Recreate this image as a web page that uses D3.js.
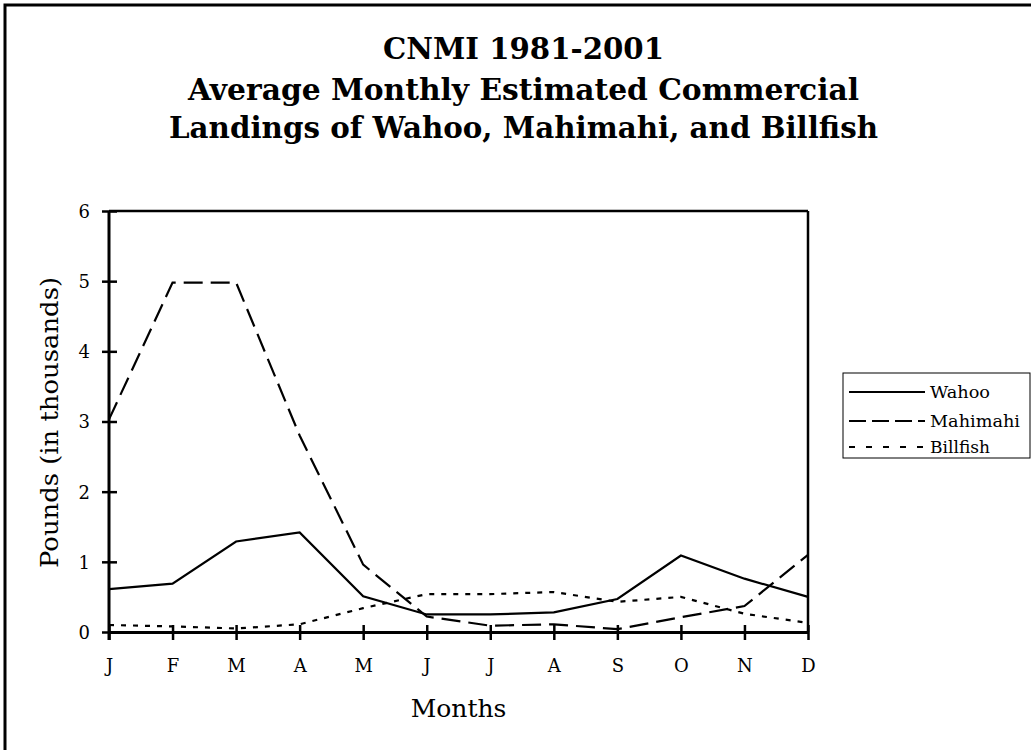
<!DOCTYPE html>
<html><head><meta charset="utf-8">
<script src="https://cdn.jsdelivr.net/npm/d3@7"></script>
<style>
html,body{margin:0;padding:0;background:#fff;}
svg{display:block;}
text{font-family:"DejaVu Serif","Liberation Serif",serif;fill:#000;}
</style></head>
<body>
<svg id="chart" width="1031" height="750"></svg>
<script>
const months = ["J","F","M","A","M","J","J","A","S","O","N","D"];
const wahoo    = [0.61,0.69,1.29,1.42,0.51,0.25,0.25,0.28,0.47,1.09,0.76,0.50];
const mahimahi = [3.03,4.98,4.98,2.80,0.96,0.22,0.09,0.11,0.04,0.21,0.37,1.10];
const billfish = [0.10,0.08,0.05,0.11,0.34,0.54,0.54,0.57,0.43,0.50,0.26,0.13];
const yTicks = [0,1,2,3,4,5,6];
const seriesNames = ["Wahoo","Mahimahi","Billfish"];
const titleLines = ["CNMI 1981-2001","Average Monthly Estimated Commercial","Landings of Wahoo, Mahimahi, and Billfish"];

const svg = d3.select("#chart");
// outer frame (cropped on right and bottom)
svg.append("rect").attr("x",5).attr("y",5).attr("width",1040).attr("height",760)
  .attr("fill","none").attr("stroke","#000").attr("stroke-width",3);

const L=109, R=808, T=211, B=632;
const x = d3.scalePoint().domain(d3.range(12)).range([L,R]);
const y = d3.scaleLinear().domain([0,6]).range([B,T]);

// titles
const titleY=[59,99.5,137.5];
const titleW=[281,671,709];
titleLines.forEach((t,i)=>{
  svg.append("text").attr("x",523.5).attr("y",titleY[i]).attr("text-anchor","middle")
    .attr("font-size",29).attr("font-weight","bold").text(t)
    .attr("textLength",titleW[i]).attr("lengthAdjust","spacingAndGlyphs");
});

// frame top and right
svg.append("line").attr("x1",L).attr("x2",R).attr("y1",T).attr("y2",T).attr("stroke","#000").attr("stroke-width",2.5);
svg.append("line").attr("x1",R).attr("x2",R).attr("y1",T).attr("y2",B).attr("stroke","#000").attr("stroke-width",2.5);

// axes
const yAxis = d3.axisLeft(y).tickValues(yTicks).tickFormat(d3.format("d")).tickSizeInner(7).tickSizeOuter(0);
const gy = svg.append("g").attr("transform",`translate(${L},0)`).call(yAxis);
gy.selectAll(".tick line").attr("x2",-7).attr("x1",8);
gy.selectAll(".tick text").attr("x",-19).attr("dy","0.36em");
const xAxis = d3.axisBottom(x).tickFormat(i=>months[i]).tickSizeInner(8).tickSizeOuter(0);
const gx = svg.append("g").attr("transform",`translate(0,${B})`).call(xAxis);
gx.selectAll(".tick line").attr("y1",-7).attr("y2",8);
gx.selectAll(".tick text").attr("y",40).attr("dy",0);
[gx,gy].forEach(g=>{
  g.attr("font-family",null).attr("font-size",null);
  g.select(".domain").attr("stroke","#000").attr("stroke-width",3);
  g.selectAll(".tick line").attr("stroke","#000").attr("stroke-width",2.5);
  g.selectAll("text").style("font-family","'DejaVu Serif', serif").style("font-size","18px").attr("fill","#000");
});
gy.select(".domain").attr("d",`M0,${B+8}V${T}`);

// axis titles
svg.append("text").attr("x",458.5).attr("y",717).attr("text-anchor","middle").attr("font-size",25).text("Months");
svg.append("text").attr("transform","translate(58,422.5) rotate(-90)").attr("text-anchor","middle")
  .attr("font-size",25).attr("textLength",291).attr("lengthAdjust","spacingAndGlyphs").text("Pounds (in thousands)");

// lines
const line = d3.line().x((d,i)=>x(i)).y(d=>y(d));
const styles = [
  {data:wahoo, dash:null, ldash:null},
  {data:mahimahi, dash:"19,8", ldash:"17,6"},
  {data:billfish, dash:"5,7", ldash:"6,11"}
];
styles.forEach(s=>{
  svg.append("path").datum(s.data).attr("d",line).attr("fill","none")
    .attr("stroke","#000").attr("stroke-width",2.2).attr("stroke-dasharray",s.dash);
});

// legend
const lg = svg.append("g");
lg.append("rect").attr("x",843).attr("y",373).attr("width",187).attr("height",85)
  .attr("fill","#fff").attr("stroke","#000").attr("stroke-width",1);
const rowY=[392,421,447];
const legW=[60,90,60];
seriesNames.forEach((n,i)=>{
  lg.append("line").attr("x1",849).attr("x2",925).attr("y1",rowY[i]).attr("y2",rowY[i])
    .attr("stroke","#000").attr("stroke-width",2.2).attr("stroke-dasharray",styles[i].ldash);
  lg.append("text").attr("x",930).attr("y",rowY[i]+6).attr("font-size",16)
    .attr("textLength",legW[i]).attr("lengthAdjust","spacingAndGlyphs").text(n);
});
</script>
</body></html>
